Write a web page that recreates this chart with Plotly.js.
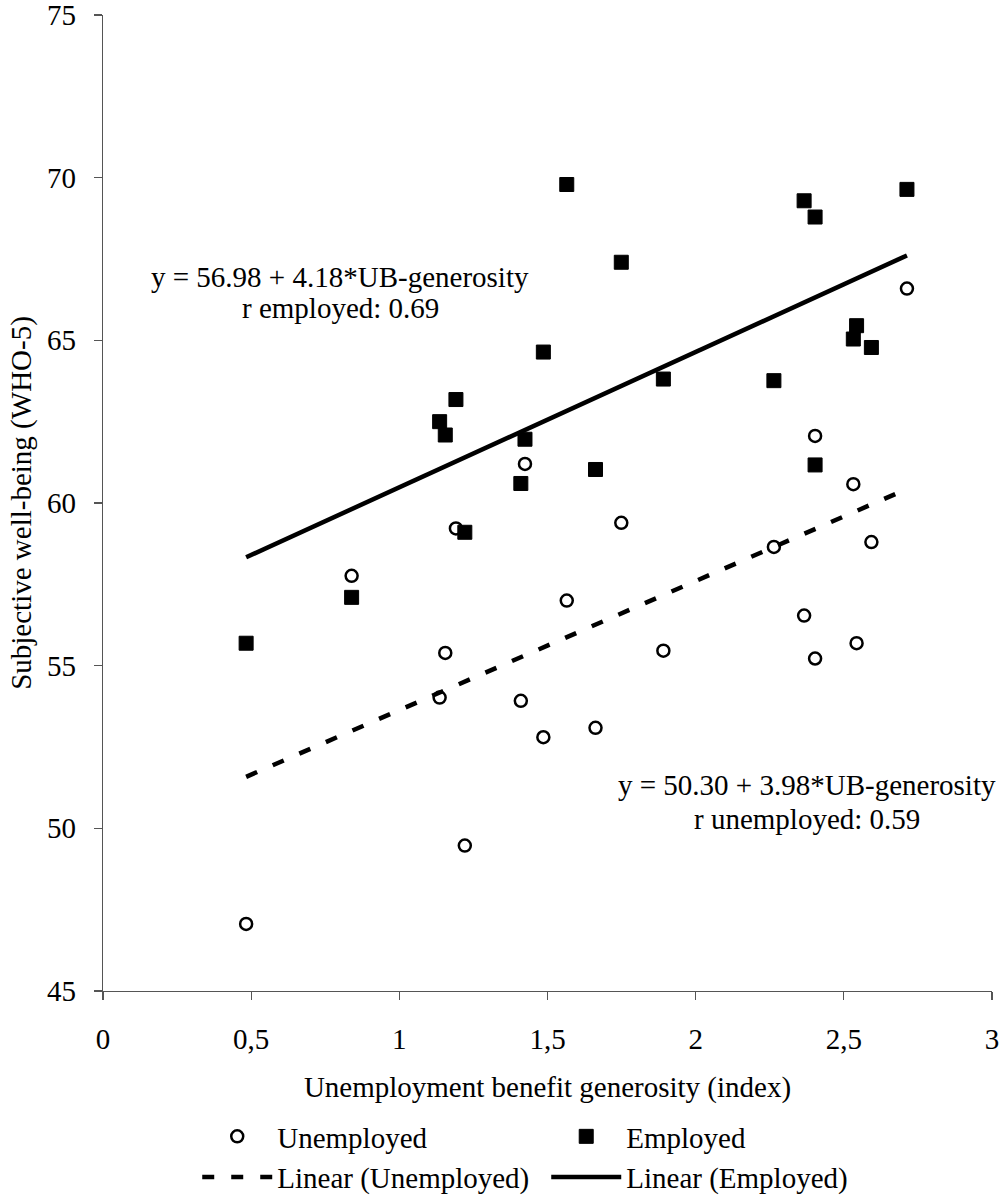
<!DOCTYPE html>
<html>
<head>
<meta charset="utf-8">
<script src="https://cdn.plot.ly/plotly-3.0.1.min.js"></script>
<style>html,body{margin:0;padding:0;background:#fff;}#chart{width:1001px;height:1203px;}</style>
</head>
<body>
<div id="chart"></div>
<script>
// UB-generosity index per country (x)
const ubGenerosity = [0.483, 0.839, 1.136, 1.155, 1.191, 1.221, 1.410, 1.424, 1.486, 1.565, 1.662,
                      1.749, 1.891, 2.264, 2.366, 2.403, 2.403, 2.532, 2.543, 2.593, 2.713];
// Subjective well-being (WHO-5), unemployed
const wellbeingUnemployed = [47.06, 57.76, 54.02, 55.39, 59.22, 49.47, 53.92, 61.20, 52.80, 57.00, 53.09,
                             59.39, 55.46, 58.65, 56.54, 62.06, 55.22, 60.58, 55.69, 58.80, 66.59];
// Subjective well-being (WHO-5), employed
const wellbeingEmployed = [55.69, 57.10, 62.50, 62.09, 63.18, 59.10, 60.60, 61.96, 64.64, 69.79, 61.03,
                           67.40, 63.81, 63.76, 69.29, 68.79, 61.17, 65.04, 65.45, 64.78, 69.64];

const xTickVals = [0, 0.5, 1, 1.5, 2, 2.5, 3];
const yTickVals = [45, 50, 55, 60, 65, 70, 75];

const eqEmployed = ["y = 56.98 + 4.18*UB-generosity", "r employed: 0.69"];
const eqUnemployed = ["y = 50.30 + 3.98*UB-generosity", "r unemployed: 0.59"];

// least-squares trend line (like Excel's linear trendline)
function linearFit(xs, ys) {
  const n = xs.length;
  let sx = 0, sy = 0, sxx = 0, sxy = 0;
  for (let i = 0; i < n; i++) { sx += xs[i]; sy += ys[i]; sxx += xs[i]*xs[i]; sxy += xs[i]*ys[i]; }
  const b = (n*sxy - sx*sy) / (n*sxx - sx*sx);
  const a = (sy - b*sx) / n;
  const x0 = Math.min(...xs), x1 = Math.max(...xs);
  return { x: [x0, x1], y: [a + b*x0, a + b*x1] };
}
const fitU = linearFit(ubGenerosity, wellbeingUnemployed);
const fitE = linearFit(ubGenerosity, wellbeingEmployed);

const FONT = "Liberation Serif";
const FS = 29;

const traces = [
  { x: ubGenerosity, y: wellbeingUnemployed, type: "scatter", mode: "markers", name: "Unemployed",
    marker: { symbol: "circle", size: 12, color: "#ffffff", line: { color: "#000000", width: 2.5 } } },
  { x: ubGenerosity, y: wellbeingEmployed, type: "scatter", mode: "markers", name: "Employed",
    marker: { symbol: "square", size: 14, color: "#000000", line: { color: "#000000", width: 1 } } },
  { x: fitU.x, y: fitU.y, type: "scatter", mode: "lines", name: "Linear (Unemployed)",
    line: { color: "#000000", width: 4.5, dash: "12px,17px" } },
  { x: fitE.x, y: fitE.y, type: "scatter", mode: "lines", name: "Linear (Employed)",
    line: { color: "#000000", width: 4.5 } }
];

const axisColor = "#555555";
const layout = {
  width: 1001, height: 1203,
  margin: { l: 103, r: 9, t: 15, b: 212 },
  paper_bgcolor: "#ffffff", plot_bgcolor: "#ffffff",
  separators: ", ",
  font: { family: FONT, size: FS, color: "#000000" },
  showlegend: true,
  xaxis: {
    range: [0, 3], tickvals: xTickVals, showgrid: false, zeroline: false, automargin: false,
    showline: true, linecolor: axisColor, linewidth: 1.3,
    ticks: "outside", ticklen: 8, tickcolor: axisColor, tickwidth: 1.3,
    ticklabelstandoff: 14, ticklabeloverflow: "allow",
    tickfont: { family: FONT, size: FS, color: "#000" },
    title: { text: "Unemployment benefit generosity (index)", font: { family: FONT, size: FS, color: "#000" }, standoff: 22 }
  },
  yaxis: {
    range: [45, 75], tickvals: yTickVals, showgrid: false, zeroline: false, automargin: false,
    showline: true, linecolor: axisColor, linewidth: 1.3,
    ticks: "outside", ticklen: 8, tickcolor: axisColor, tickwidth: 1.3,
    ticklabelstandoff: 12, ticklabeloverflow: "allow",
    tickfont: { family: FONT, size: FS, color: "#000" },
    title: { text: "Subjective well-being (WHO-5)", font: { family: FONT, size: FS, color: "#000" }, standoff: 6 }
  },
  legend: {
    orientation: "h", xref: "paper", x: 0.106, xanchor: "left",
    yref: "container", y: -0.0183, yanchor: "bottom",
    entrywidth: 264, traceorder: "normal",
    font: { family: FONT, size: FS, color: "#000" },
    bgcolor: "rgba(0,0,0,0)", borderwidth: 0, itemwidth: 70
  },
  annotations: [
    { xref: "x", yref: "y", x: 0.801, y: 66.94, text: eqEmployed[0], showarrow: false, font: { family: FONT, size: FS, color: "#000" } },
    { xref: "x", yref: "y", x: 0.801, y: 65.99, text: eqEmployed[1], showarrow: false, font: { family: FONT, size: FS, color: "#000" } },
    { xref: "x", yref: "y", x: 2.374, y: 51.33, text: eqUnemployed[0], showarrow: false, font: { family: FONT, size: FS, color: "#000" } },
    { xref: "x", yref: "y", x: 2.374, y: 50.29, text: eqUnemployed[1], showarrow: false, font: { family: FONT, size: FS, color: "#000" } }
  ]
};

Plotly.newPlot("chart", traces, layout, { displayModeBar: false, staticPlot: true });
</script>
</body>
</html>
